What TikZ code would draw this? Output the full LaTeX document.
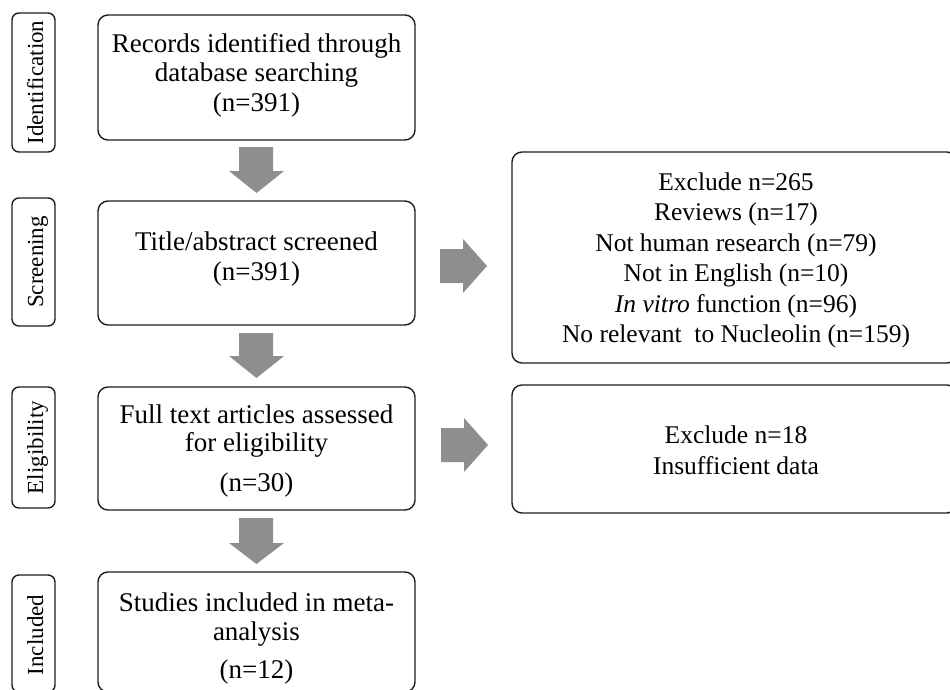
\documentclass[tikz,border=0pt]{standalone}
\usepackage{fontspec}
\setmainfont{Liberation Serif}
\usetikzlibrary{calc}
\definecolor{arrowgray}{RGB}{142,142,142}
\definecolor{edgecol}{RGB}{30,30,30}
\begin{document}
\begin{tikzpicture}[x=1pt,y=-1pt,
  box/.style={draw=edgecol, line width=1.4pt, rounded corners=10pt, inner sep=0pt},
  labbox/.style={draw=edgecol, line width=1.4pt, rounded corners=7pt, inner sep=0pt, minimum width=43pt},
  blockarr/.style={fill=arrowgray, draw=none},
  maintxt/.style={font=\fontsize{27}{29}\selectfont, align=center, inner sep=0pt},
  sidetxt/.style={font=\fontsize{25.5}{30.5}\selectfont, align=center, inner sep=0pt},
  labtxt/.style={font=\fontsize{23}{25}\selectfont, rotate=90, inner sep=0pt, text height=16pt, text depth=0pt}]
\useasboundingbox (0,0) rectangle (950,690);
\fill[white] (0,0) rectangle (950,690);

% stage labels
\node[labbox, minimum height=139pt] (l1) at (33.5,82.5) {};
\node[labbox, minimum height=128pt] (l2) at (33.5,262) {};
\node[labbox, minimum height=121pt] (l3) at (33.5,447.5) {};
\node[labbox, minimum height=117pt] (l4) at (33.5,633.5) {};
\node[labtxt] (lt1) at (35,82.5) {Identification};
\node[labtxt] (lt2) at (35,262) {Screening};
\node[labtxt] (lt3) at (35,447.5) {Eligibility};
\node[labtxt] (lt4) at (35,635) {Included};

% main boxes
\node[box, minimum width=317pt, minimum height=125pt] (b1) at (256.5,77.5) {};
\node[box, minimum width=317pt, minimum height=124pt] (b2) at (256.5,263) {};
\node[box, minimum width=317pt, minimum height=123pt] (b3) at (256.5,448.5) {};
\node[box, minimum width=317pt, minimum height=120pt] (b4) at (256.5,632) {};

\node[maintxt] (t1) at (256.5,75) {Records identified through\\database searching\\[1pt](n=391)};
\node[maintxt] (t2) at (256.5,259) {Title/abstract screened\\[1pt](n=391)};
\node[maintxt] (t3) at (256.5,451) {Full text articles assessed\\[-1pt]for eligibility\\[11pt](n=30)};
\node[maintxt] (t4) at (256.5,638.5) {Studies included in meta-\\analysis\\[9pt](n=12)};

% exclusion boxes
\node[box, minimum width=445pt, minimum height=211pt] (r1) at (734.5,257.5) {};
\node[box, minimum width=445pt, minimum height=128pt] (r2) at (734.5,449) {};
\node[sidetxt] (rt1) at (736,260.5) {Exclude n=265\\Reviews (n=17)\\Not human research (n=79)\\Not in English (n=10)\\\textit{In vitro} function (n=96)\\No relevant\ \ to Nucleolin (n=159)};
\node[sidetxt] (rt2) at (736,450.5) {Exclude n=18\\Insufficient data};

% block arrows down
\fill[blockarr] (239,147) -- (273,147) -- (273,171) -- (284,171) -- (256.5,193) -- (229,171) -- (239,171) -- cycle;
\fill[blockarr] (239,333) -- (273,333) -- (273,356) -- (284,356) -- (256.5,378) -- (229,356) -- (239,356) -- cycle;
\fill[blockarr] (239,518) -- (273,518) -- (273,543) -- (284,543) -- (256.5,564) -- (229,543) -- (239,543) -- cycle;
% block arrows right
\fill[blockarr] (440,249) -- (463,249) -- (463,239) -- (487,266) -- (463,293) -- (463,283) -- (440,283) -- cycle;
\fill[blockarr] (441,428) -- (464,428) -- (464,418) -- (488,445) -- (464,472) -- (464,462) -- (441,462) -- cycle;
\end{tikzpicture}
\end{document}
